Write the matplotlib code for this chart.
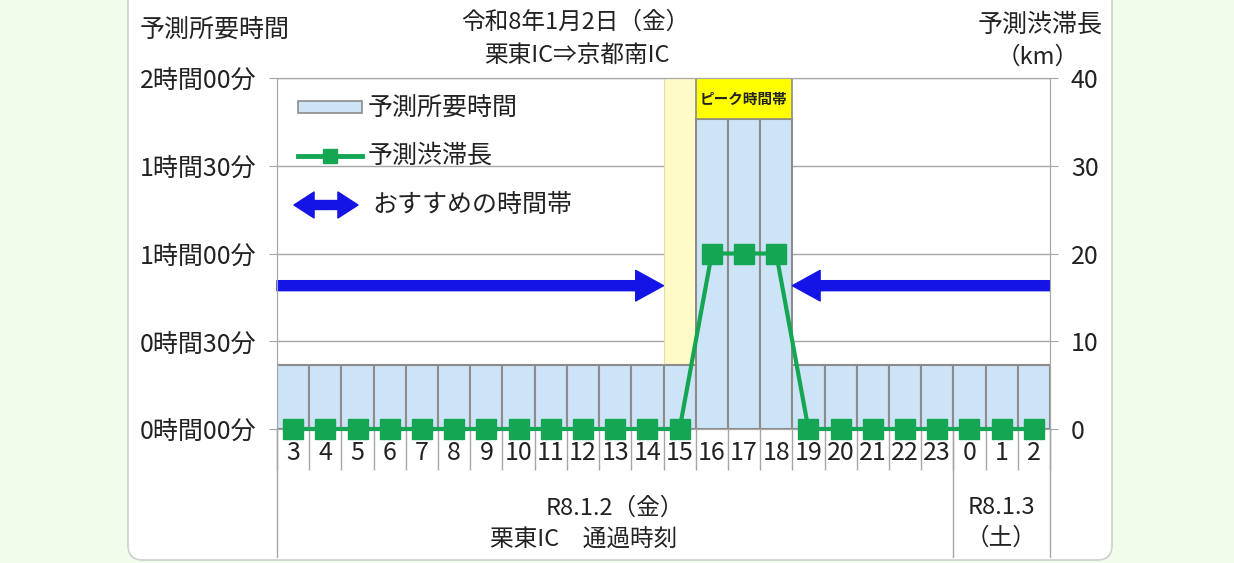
import matplotlib
matplotlib.use("Agg")
import matplotlib.pyplot as plt
import matplotlib.transforms as mtransforms
from matplotlib.patches import Rectangle, FancyBboxPatch, FancyArrowPatch
from matplotlib.lines import Line2D

plt.rcParams['font.family'] = ['Noto Sans CJK JP', 'DejaVu Sans']

# --- data -------------------------------------------------------------
hour_labels = ['3', '4', '5', '6', '7', '8', '9', '10', '11', '12', '13', '14',
               '15', '16', '17', '18', '19', '20', '21', '22', '23', '0', '1', '2']
travel_min = [22, 22, 22, 22, 22, 22, 22, 22, 22, 22, 22, 22,
              22, 106, 106, 106, 22, 22, 22, 22, 22, 22, 22, 22]
jam_km = [0, 0, 0, 0, 0, 0, 0, 0, 0, 0, 0, 0,
          0, 20, 20, 20, 0, 0, 0, 0, 0, 0, 0, 0]
time_ticks = [0, 30, 60, 90, 120]
km_ticks = [0, 10, 20, 30, 40]
peak_idx = [13, 14, 15]
caution_idx = 12
day_breaks = [-0.5, 20.5, 23.5]
recommend_level = 49
recommend_left = (-0.5, 11.5)
recommend_right = (23.5, 15.5)

# --- colours ----------------------------------------------------------
BAR = '#CDE3F6'
EDGE = '#8C8C8C'
GRID = '#A6A6A6'
GREEN = '#14A652'
BLUE = '#1414E6'
TXT = '#222222'
ARROW = 'simple,head_length=1.0,head_width=1.1,tail_width=0.36'

W, H = 1234, 563
fig = plt.figure(figsize=(W / 100, H / 100), dpi=100)
fig.patch.set_facecolor('#F1FDEB')


def fx(px):
    return px / W


def fy(py):
    return 1 - py / H


# white card behind the chart
card = FancyBboxPatch((fx(128), fy(560)), fx(1112) - fx(128), fy(-20) - fy(560),
                      boxstyle='round,pad=0,rounding_size=0.012',
                      mutation_aspect=W / H, transform=fig.transFigure,
                      fc='white', ec='#CFCFCF', lw=1.2, zorder=0)
fig.add_artist(card)

ax = fig.add_axes([fx(277), fy(429), fx(1050) - fx(277), fy(78) - fy(429)])
ax.set_facecolor('white')
x = list(range(len(hour_labels)))

# caution band (hour before the peak)
ax.axvspan(caution_idx - 0.5, caution_idx + 0.5, fc='#FFFBC8', ec='#E6DFA0', lw=0.8, zorder=1)

# travel time bars
ax.bar(x, travel_min, width=1.0, color=BAR, edgecolor=EDGE, linewidth=1.5, zorder=2)

# peak band label box
peak_center = sum(peak_idx) / len(peak_idx)
peak_top = travel_min[peak_idx[0]]
ax.bar(peak_center, time_ticks[-1] - peak_top, bottom=peak_top, width=len(peak_idx),
       color='#FFFF00', edgecolor=EDGE, linewidth=1.2, zorder=2)
ax.text(peak_center, (peak_top + time_ticks[-1]) / 2, 'ピーク時間帯', ha='center', va='center',
        fontsize=10.5, fontweight='bold', color=TXT, zorder=3)

# recommended time arrows
for start, end in (recommend_left, recommend_right):
    ax.annotate('', xy=(end, recommend_level), xytext=(start, recommend_level),
                arrowprops=dict(arrowstyle=ARROW, mutation_scale=20, color=BLUE,
                                shrinkA=0, shrinkB=0),
                zorder=4)

ax.set_xlim(-0.5, len(hour_labels) - 0.5)
ax.set_ylim(time_ticks[0], time_ticks[-1])
ax.set_yticks(time_ticks)
ax.set_yticklabels([f'{m // 60}時間{m % 60:02d}分' for m in time_ticks], fontsize=18, color=TXT)
ax.yaxis.grid(True, color=GRID, lw=1)
ax.set_axisbelow(True)
ax.tick_params(axis='y', direction='out', length=6, color=GRID, pad=9)

ax.set_xticks(x)
ax.set_xticklabels(hour_labels, fontsize=18, color=TXT)
ax.set_xticks([i - 0.5 for i in range(len(hour_labels) + 1)], minor=True)
ax.tick_params(axis='x', which='major', length=0, pad=8)
ax.tick_params(axis='x', which='minor', direction='out', length=29.5, color=GRID, width=1)
for s in ax.spines.values():
    s.set_color(GRID)

# long separators under the axis for dates
trans = mtransforms.blended_transform_factory(ax.transData, ax.transAxes)
for b in day_breaks:
    ax.add_line(Line2D([b, b], [0, -0.365], transform=trans, color=GRID, lw=1, clip_on=False))

# congestion length on right axis
ax2 = ax.twinx()
ax2.plot(x, jam_km, color=GREEN, lw=3, marker='s', markersize=15, zorder=5, clip_on=False)
ax2.set_ylim(km_ticks[0], km_ticks[-1])
ax2.set_yticks(km_ticks)
ax2.set_yticklabels([str(k) for k in km_ticks], fontsize=18, color=TXT)
ax2.tick_params(axis='y', direction='out', length=6, color=GRID, pad=9)
for s in ax2.spines.values():
    s.set_color(GRID)

# --- legend drawn by hand --------------------------------------------
fig.add_artist(Rectangle((fx(298), fy(113)), fx(362) - fx(298), fy(101) - fy(113),
                         transform=fig.transFigure, fc=BAR, ec=EDGE, lw=1.2))
fig.text(fx(368), fy(108), '予測所要時間', ha='left', va='center', fontsize=18, color=TXT)
fig.add_artist(Line2D([fx(298), fx(362)], [fy(156), fy(156)], transform=fig.transFigure,
                      color=GREEN, lw=3.5))
fig.add_artist(Line2D([fx(330)], [fy(156)], transform=fig.transFigure,
                      color=GREEN, marker='s', markersize=10, lw=0))
fig.text(fx(368), fy(156), '予測渋滞長', ha='left', va='center', fontsize=18, color=TXT)
for tip in (294, 358):
    fig.add_artist(FancyArrowPatch((fx(326), fy(205)), (fx(tip), fy(205)), transform=fig.transFigure,
                                   arrowstyle='simple,head_length=0.85,head_width=1.1,tail_width=0.38',
                                   mutation_scale=17, color=BLUE, shrinkA=0, shrinkB=0))
fig.text(fx(372), fy(205), 'おすすめの時間帯', ha='left', va='center', fontsize=18, color=TXT)

# --- titles and axis captions ----------------------------------------
fig.text(fx(140), fy(30), '予測所要時間', ha='left', va='center', fontsize=18, color=TXT)
fig.text(fx(575), fy(22), '令和8年1月2日（金）', ha='center', va='center', fontsize=17, color=TXT)
fig.text(fx(577), fy(55), '栗東IC⇒京都南IC', ha='center', va='center', fontsize=17, color=TXT)
fig.text(fx(1040), fy(25), '予測渋滞長', ha='center', va='center', fontsize=18, color=TXT)
fig.text(fx(1038), fy(57), '（km）', ha='center', va='center', fontsize=17, color=TXT)

fig.text(fx(615), fy(508), 'R8.1.2（金）', ha='center', va='center', fontsize=17, color=TXT)
fig.text(fx(584), fy(540), '栗東IC\u3000通過時刻', ha='center', va='center', fontsize=17, color=TXT)
fig.text(fx(1001), fy(507), 'R8.1.3', ha='center', va='center', fontsize=17, color=TXT)
fig.text(fx(1001), fy(538), '（土）', ha='center', va='center', fontsize=17, color=TXT)

fig.savefig('out.png', dpi=100, facecolor=fig.get_facecolor())
